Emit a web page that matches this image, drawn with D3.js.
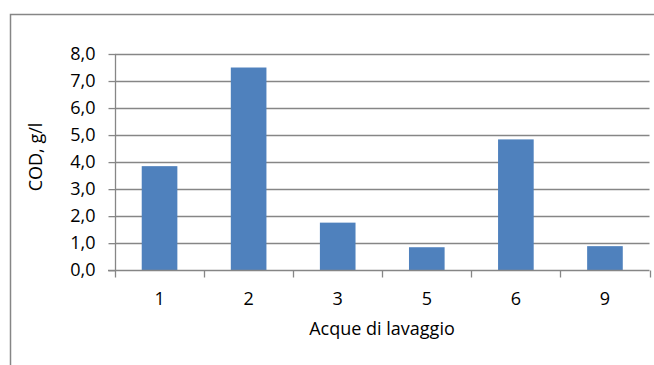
<!DOCTYPE html>
<html>
<head>
<meta charset="utf-8">
<script src="https://cdn.jsdelivr.net/npm/d3@7"></script>
<style>
  html, body { margin: 0; padding: 0; background: #fff; }
  svg { display: block; }
  text { font-family: "Open Sans", Lato, sans-serif; fill: #000; }
</style>
</head>
<body>
<svg id="chart" width="654" height="365"></svg>
<script>
// Campioni di acque di lavaggio e relativo COD (g/l)
const categories = ["1", "2", "3", "5", "6", "9"];
const codValues = [3.85, 7.5, 1.76, 0.85, 4.84, 0.89];
const yTicks = [0, 1, 2, 3, 4, 5, 6, 7, 8];
const yTitle = "COD, g/l";
const xTitle = "Acque di lavaggio";

const svg = d3.select("#chart");
const W = 654, H = 365;
const plot = { left: 115, right: 649.5, top: 54, bottom: 270.2 };
const gridColor = "#868686";
const fontSize = 18;

// Cornice del grafico
svg.append("rect")
  .attr("x", 10.5).attr("y", 14.5)
  .attr("width", W + 20).attr("height", H + 20)
  .attr("fill", "#fff")
  .attr("stroke", gridColor).attr("stroke-width", 1.5);

const y = d3.scaleLinear().domain([0, 8]).range([plot.bottom, plot.top]);
const xSlot = d3.scaleBand().domain(categories).range([plot.left, plot.right]).padding(0);
const xBar = d3.scaleBand().domain(categories).range([plot.left, plot.right])
  .paddingInner(0.6).paddingOuter(0.3);

// Griglia orizzontale
svg.append("g").selectAll("line").data(yTicks.filter(d => d > 0)).join("line")
  .attr("x1", plot.left).attr("x2", plot.right)
  .attr("y1", d => Math.round(y(d)) + 0.5).attr("y2", d => Math.round(y(d)) + 0.5)
  .attr("stroke", gridColor).attr("stroke-width", 1.3);

// Barre
svg.append("g").selectAll("rect").data(categories).join("rect")
  .attr("x", d => xBar(d))
  .attr("width", xBar.bandwidth())
  .attr("y", (d, i) => y(codValues[i]))
  .attr("height", (d, i) => y(0) - y(codValues[i]))
  .attr("fill", "#4F81BD");

// Asse Y
const yAxis = svg.append("g")
  .attr("transform", `translate(${plot.left + 0.5},0)`)
  .call(d3.axisLeft(y).tickValues(yTicks).tickSize(7).tickPadding(13)
    .tickFormat(d => d3.format(".1f")(d).replace(".", ",")));
yAxis.select(".domain").attr("stroke", gridColor).attr("stroke-width", 1.3).attr("d", `M0,${plot.top}V${plot.bottom}`);
yAxis.selectAll(".tick line").attr("stroke", gridColor).attr("stroke-width", 1.3);
yAxis.selectAll(".tick text").attr("font-size", fontSize).attr("font-family", "Open Sans").attr("fill", "#000");

// Asse X: linea di base, tacche ai confini delle categorie, etichette al centro
const xAxisG = svg.append("g");
const y0 = Math.round(y(0)) + 0.5;
xAxisG.append("line")
  .attr("x1", plot.left - 7).attr("x2", plot.right)
  .attr("y1", y0).attr("y2", y0)
  .attr("stroke", gridColor).attr("stroke-width", 1.3);
const bounds = categories.map(d => xSlot(d)).concat([xSlot(categories[categories.length - 1]) + xSlot.bandwidth()]);
xAxisG.selectAll("line.tk").data(bounds).join("line").attr("class", "tk")
  .attr("x1", d => Math.round(d) + 0.5).attr("x2", d => Math.round(d) + 0.5)
  .attr("y1", y0).attr("y2", y0 + 7)
  .attr("stroke", gridColor).attr("stroke-width", 1.3);
xAxisG.selectAll("text").data(categories).join("text")
  .attr("x", d => xSlot(d) + xSlot.bandwidth() / 2)
  .attr("y", 305)
  .attr("text-anchor", "middle")
  .attr("font-size", fontSize)
  .text(d => d);

// Titoli degli assi
svg.append("text")
  .attr("x", 382)
  .attr("y", 335)
  .attr("text-anchor", "middle")
  .attr("font-size", fontSize)
  .text(xTitle);

svg.append("text")
  .attr("transform", `translate(42,157) rotate(-90)`)
  .attr("text-anchor", "middle")
  .attr("font-size", fontSize)
  .text(yTitle);
</script>
</body>
</html>
